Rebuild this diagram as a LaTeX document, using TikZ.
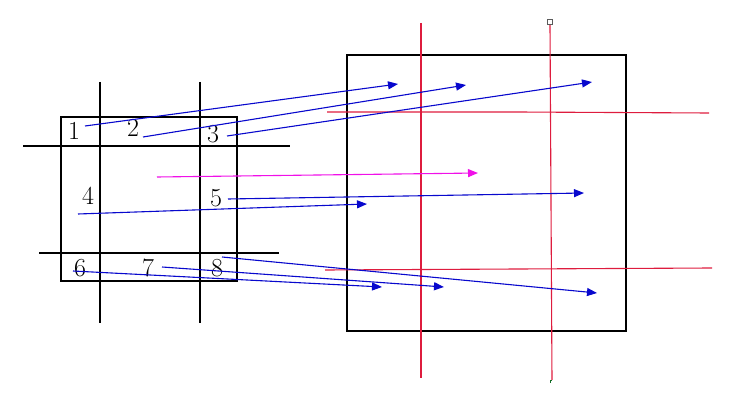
\documentclass[tikz,border=0pt]{standalone}
\usepackage{fontspec}
\usetikzlibrary{arrows.meta}
\definecolor{gridred}{RGB}{222,28,62}
\definecolor{arrowblue}{RGB}{8,8,205}
\definecolor{arrowpink}{RGB}{240,16,232}
\definecolor{handlegray}{RGB}{90,90,90}
\definecolor{markgreen}{RGB}{20,110,40}
\tikzset{
  >={Triangle[length=10pt,width=8pt]},
  frame/.style={draw=black,line width=1.1pt},
  cutline/.style={draw=black,line width=1.1pt},
  guide/.style={draw=gridred,line width=1.1pt},
  move/.style={->,draw=arrowblue,line width=1.1pt},
  movepink/.style={move,draw=arrowpink},
  cell/.style={font=\fontsize{26}{26}\selectfont,inner sep=0pt},
  handle/.style={draw=handlegray,fill=white,line width=0.8pt,minimum size=5pt,inner sep=0pt}
}

\begin{document}
\begin{tikzpicture}[x=1pt,y=-1pt]
  \useasboundingbox (0,0) rectangle (745,414);

  % source block with its cut lines
  \draw[frame] (61,117) rectangle (237,281);
  \draw[cutline] (100,82) -- (100,323);
  \draw[cutline] (200,82) -- (200,323);
  \draw[cutline] (23,146) -- (290,146);
  \draw[cutline] (39,253) -- (279,253);

  \node[cell] (n1) at (74,131) {1};
  \node[cell] (n2) at (133,128) {2};
  \node[cell] (n3) at (213,134) {3};
  \node[cell] (n4) at (88,196) {4};
  \node[cell] (n5) at (216,198) {5};
  \node[cell] (n6) at (80,268) {6};
  \node[cell] (n7) at (148,268) {7};
  \node[cell] (n8) at (217,268) {8};

  % target block and red guides
  \draw[frame] (347,55) rectangle (626,331);
  \draw[guide] (421,23) -- (421,378);
  \draw[guide] (550,25) -- (552,380);
  \node[handle] (grip) at (550,22) {};
  \draw[markgreen,line width=0.8pt] (550,383) -- (550,380) -- (552,380);
  \draw[guide] (327,112) -- (517,112) -- (709,113);
  \draw[guide] (325,270) -- (712,268);

  % start and end points of the moves
  \coordinate (s1) at (85,126);  \coordinate (e1) at (398,84);
  \coordinate (s2) at (143,137); \coordinate (e2) at (466,85);
  \coordinate (s3) at (227,136); \coordinate (e3) at (592,82);
  \coordinate (s4) at (78,214);  \coordinate (e4) at (367,204);
  \coordinate (s5) at (228,199); \coordinate (e5) at (584,193);
  \coordinate (s6) at (73,271);  \coordinate (e6) at (382,287);
  \coordinate (s7) at (162,267); \coordinate (e7) at (444,287);
  \coordinate (s8) at (222,257); \coordinate (e8) at (597,293);
  \coordinate (sm) at (157,177); \coordinate (em) at (478,173);

  \draw[move] (s1) -- (e1);
  \draw[move] (s2) -- (e2);
  \draw[move] (s3) -- (e3);
  \draw[move] (s4) -- (e4);
  \draw[move] (s5) -- (e5);
  \draw[move] (s6) -- (e6);
  \draw[move] (s7) -- (e7);
  \draw[move] (s8) -- (e8);
  \draw[movepink] (sm) -- (em);
\end{tikzpicture}
\end{document}
